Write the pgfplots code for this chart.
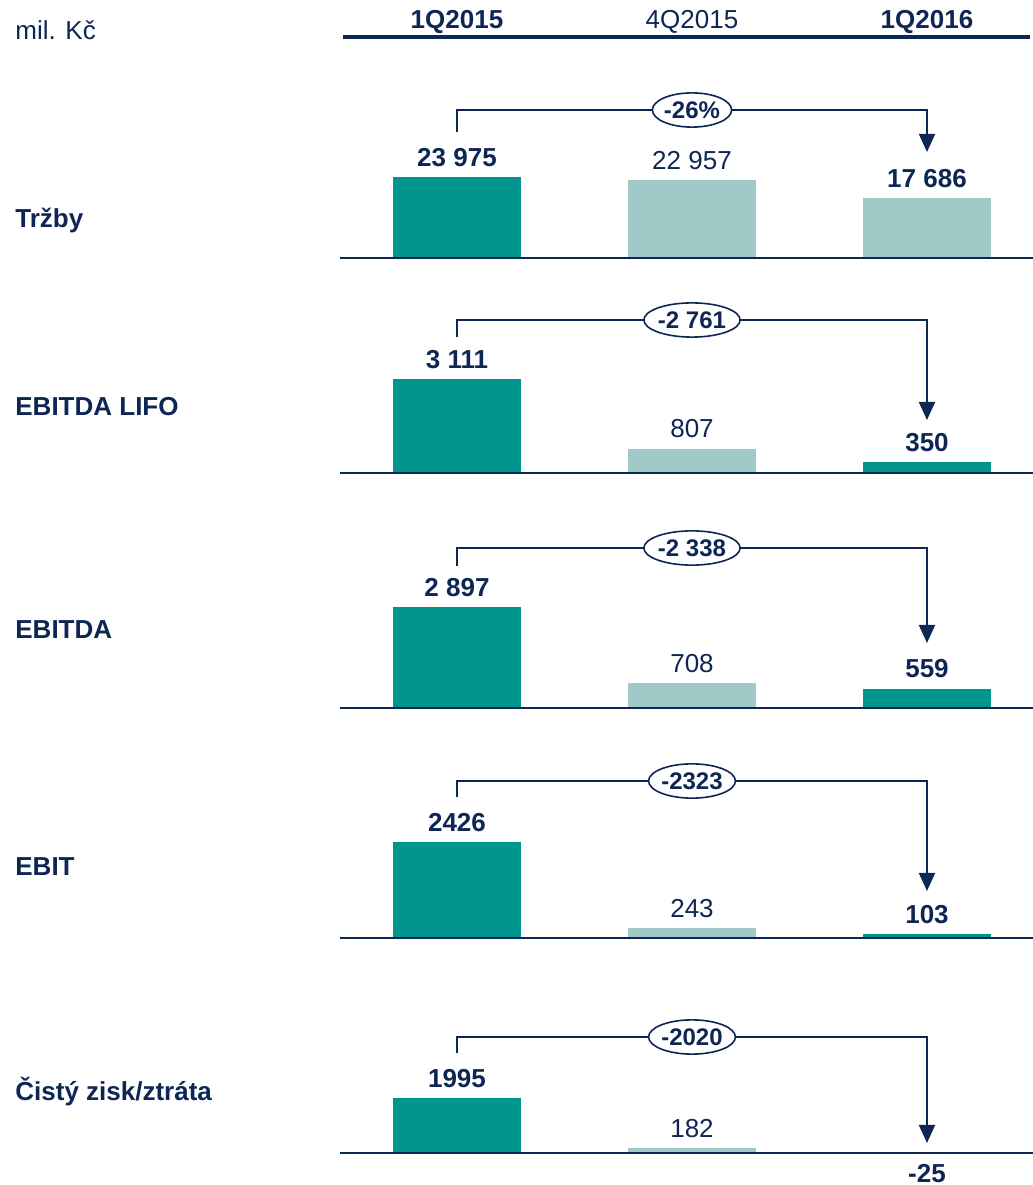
\documentclass[border=0pt]{standalone}
\usepackage{fontspec}
\setmainfont{Liberation Sans}
\usepackage{pgfplots}
\pgfplotsset{compat=1.18}
\usetikzlibrary{arrows.meta,shapes.geometric}
\definecolor{navy}{RGB}{14,38,84}
\definecolor{tealb}{RGB}{0,150,143}
\definecolor{lightb}{RGB}{160,201,200}
\newcommand{\f}{\fontsize{13pt}{15pt}\selectfont}
\newcommand{\fe}{\fontsize{12pt}{14pt}\selectfont}
\pgfplotsset{
  panel/.style={
    width=516.5pt, height=592.5pt, scale only axis,
    at={(0pt,0pt)}, anchor=south west,
    xmin=0, xmax=1033,
    axis lines=none, clip=false,
    ybar, bar width=128, bar shift=0pt,
    point meta=explicit symbolic,
    nodes near coords,
    every node near coord/.append style={font=\f, text=navy, inner sep=5pt, anchor=south},
  },
  bl/.style={every node near coord/.append style={font=\f\bfseries}},
  neg/.style={every node near coord/.append style={anchor=north}},
  tb/.style={fill=tealb, draw=none, bar shift=0pt},
  lb/.style={fill=lightb, draw=none, bar shift=0pt},
}
\newcommand{\bracket}[4]{%
  \draw[navy, line width=1pt, line join=miter, -{Triangle[width=8pt,length=9pt]}]
    (457,#2) -- (457,#1) -- (927,#1) -- (927,#3);
  \node[ellipse, draw=navy, line width=0.8pt, fill=white, inner xsep=0pt, inner ysep=1.8pt,
        font=\fe\bfseries, text=navy] at (692,#1) {#4};
}
\begin{document}
\begin{tikzpicture}
% Panel 1: Trzby
\begin{axis}[panel, ymin=-274382, ymax=76365]
\addplot[tb, bl] coordinates {(457,23975) [23~975]};
\addplot[lb] coordinates {(692,22957) [22~957]};
\addplot[lb, bl] coordinates {(927,17686) [17~686]};
\draw[navy, line width=1pt] (axis cs:340,0) -- (axis cs:1033,0);
\end{axis}
% Panel 2: EBITDA LIFO
\begin{axis}[panel, ymin=-23564, ymax=15654.5]
\addplot[tb, bl] coordinates {(457,3111) [3~111]};
\addplot[lb] coordinates {(692,807) [807]};
\addplot[tb, bl] coordinates {(927,350) [350]};
\draw[navy, line width=1pt] (axis cs:340,0) -- (axis cs:1033,0);
\end{axis}
% Panel 3: EBITDA
\begin{axis}[panel, ymin=-13681.7, ymax=20307.5]
\addplot[tb, bl] coordinates {(457,2897) [2~897]};
\addplot[lb] coordinates {(692,708) [708]};
\addplot[tb, bl] coordinates {(927,559) [559]};
\draw[navy, line width=1pt] (axis cs:340,0) -- (axis cs:1033,0);
\end{axis}
% Panel 4: EBIT
\begin{axis}[panel, ymin=-6242, ymax=23704]
\addplot[tb, bl] coordinates {(457,2426) [2426]};
\addplot[lb] coordinates {(692,243) [243]};
\addplot[tb, bl] coordinates {(927,103) [103]};
\draw[navy, line width=1pt] (axis cs:340,0) -- (axis cs:1033,0);
\end{axis}
% Panel 5: Cisty zisk
\begin{axis}[panel, ymin=-1160.7, ymax=41822]
\addplot[tb, bl] coordinates {(457,1995) [1995]};
\addplot[lb] coordinates {(692,182) [182]};
\addplot[tb, bl, neg] coordinates {(927,-25) [-25]};
\draw[navy, line width=1pt] (axis cs:340,0) -- (axis cs:1033,0);
\end{axis}
% annotations in pixel coordinates
\begin{scope}[x=0.5pt, y=-0.5pt, yshift=592.5pt]
  \node[anchor=base west, inner xsep=0pt, font=\f, text=navy] at (15,40) {mil. Kč};
  \node[anchor=base, font=\f\bfseries, text=navy] at (457,29) {1Q2015};
  \node[anchor=base, font=\f, text=navy] at (692,29) {4Q2015};
  \node[anchor=base, font=\f\bfseries, text=navy] at (927,29) {1Q2016};
  \draw[navy, line width=1.6pt] (343,37) -- (1030,37);
  \node[anchor=base west, inner xsep=0pt, font=\f\bfseries, text=navy] at (15,228) {Tržby};
  \node[anchor=base west, inner xsep=0pt, font=\f\bfseries, text=navy] at (15,416) {EBITDA LIFO};
  \node[anchor=base west, inner xsep=0pt, font=\f\bfseries, text=navy] at (15,639) {EBITDA};
  \node[anchor=base west, inner xsep=0pt, font=\f\bfseries, text=navy] at (15,876) {EBIT};
  \node[anchor=base west, inner xsep=0pt, font=\f\bfseries, text=navy] at (15,1101) {Čistý zisk/ztráta};
  \bracket{110}{132}{152}{-26\%}
  \bracket{320}{337}{420}{-2 761}
  \bracket{548}{566}{643}{-2 338}
  \bracket{781}{797}{891}{-2323}
  \bracket{1037}{1053}{1143}{-2020}
\end{scope}
\pgfresetboundingbox
\path[use as bounding box] (0pt,0pt) rectangle (516.5pt,592.5pt);
\end{tikzpicture}
\end{document}
